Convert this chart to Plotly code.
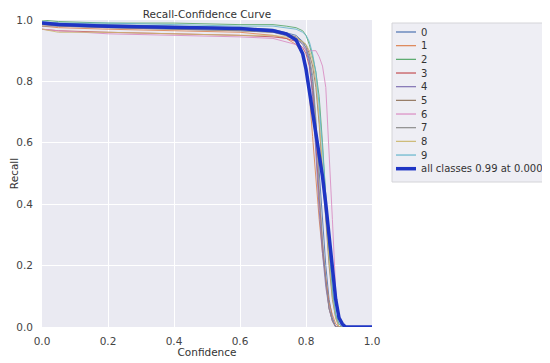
import plotly.graph_objects as go

confidence = [0, 0.05, 0.2, 0.4, 0.6, 0.7, 0.74, 0.77, 0.79, 0.80, 0.81, 0.82,
              0.83, 0.84, 0.85, 0.86, 0.87, 0.88, 0.89, 0.90, 0.91, 0.92, 0.94, 1.0]

class_names = ["0", "1", "2", "3", "4", "5", "6", "7", "8", "9"]

recall_0 = [0.99, 0.99, 0.985, 0.98, 0.975, 0.97, 0.96, 0.95, 0.93, 0.91, 0.87, 0.80,
            0.66, 0.50, 0.34, 0.20, 0.09, 0.03, 0.0, 0, 0, 0, 0, 0]
recall_1 = [0.98, 0.975, 0.97, 0.965, 0.96, 0.95, 0.94, 0.92, 0.89, 0.85, 0.76, 0.62,
            0.48, 0.35, 0.24, 0.15, 0.08, 0.04, 0.01, 0, 0, 0, 0, 0]
recall_2 = [1.0, 0.995, 0.99, 0.99, 0.985, 0.985, 0.98, 0.975, 0.965, 0.95, 0.92, 0.88,
            0.83, 0.75, 0.60, 0.42, 0.25, 0.12, 0.04, 0.01, 0, 0, 0, 0]
recall_3 = [0.97, 0.965, 0.96, 0.955, 0.95, 0.945, 0.94, 0.93, 0.91, 0.89, 0.85, 0.77,
            0.58, 0.42, 0.27, 0.15, 0.06, 0.02, 0, 0, 0, 0, 0, 0]
recall_4 = [0.99, 0.985, 0.98, 0.975, 0.97, 0.965, 0.955, 0.94, 0.92, 0.90, 0.86, 0.75,
            0.55, 0.38, 0.24, 0.13, 0.06, 0.02, 0, 0, 0, 0, 0, 0]
recall_5 = [0.985, 0.98, 0.975, 0.97, 0.965, 0.96, 0.955, 0.945, 0.93, 0.92, 0.89, 0.85,
            0.78, 0.66, 0.50, 0.34, 0.20, 0.09, 0.03, 0, 0, 0, 0, 0]
recall_6 = [0.97, 0.965, 0.955, 0.95, 0.945, 0.94, 0.93, 0.92, 0.91, 0.905, 0.90, 0.90,
            0.90, 0.88, 0.85, 0.78, 0.58, 0.35, 0.12, 0.02, 0, 0, 0, 0]
recall_7 = [0.98, 0.98, 0.975, 0.97, 0.965, 0.96, 0.95, 0.94, 0.925, 0.91, 0.88, 0.82,
            0.68, 0.45, 0.28, 0.15, 0.06, 0.02, 0, 0, 0, 0, 0, 0]
recall_8 = [0.97, 0.96, 0.96, 0.955, 0.95, 0.95, 0.945, 0.94, 0.93, 0.92, 0.90, 0.87,
            0.80, 0.68, 0.52, 0.36, 0.22, 0.10, 0.03, 0, 0, 0, 0, 0]
recall_9 = [0.995, 0.99, 0.99, 0.985, 0.98, 0.98, 0.975, 0.97, 0.96, 0.95, 0.93, 0.89,
            0.83, 0.72, 0.58, 0.42, 0.26, 0.12, 0.04, 0.01, 0, 0, 0, 0]
recall_all = [0.99, 0.985, 0.98, 0.977, 0.972, 0.965, 0.955, 0.935, 0.89, 0.84, 0.77, 0.70,
              0.63, 0.57, 0.49, 0.40, 0.30, 0.19, 0.09, 0.03, 0.01, 0, 0, 0]

class_recalls = [recall_0, recall_1, recall_2, recall_3, recall_4,
                 recall_5, recall_6, recall_7, recall_8, recall_9]
all_label = "all classes 0.99 at 0.000"

palette = ["#4C72B0", "#DD8452", "#55A868", "#C44E52", "#8172B3",
           "#937860", "#DA8BC3", "#8C8C8C", "#CCB974", "#64B5CD"]
all_color = "#1f35c4"

fig = go.Figure()
for name, rec, col in zip(class_names, class_recalls, palette):
    fig.add_trace(go.Scatter(x=confidence, y=rec, mode="lines", name=name,
                             line=dict(color=col, width=1), opacity=0.85,
                             showlegend=False))
fig.add_trace(go.Scatter(x=confidence, y=recall_all, mode="lines", name=all_label,
                         line=dict(color=all_color, width=3.5), showlegend=False))

# The page adds an 8px body margin, so the figure is laid out 8px smaller.
OFF = 8.0
FW, FH = 550 - OFF, 363 - OFF
L, T, PW, PH = 42.0 - OFF, 20.0 - OFF, 330.0, 307.0

def px_x(p):
    return (p - OFF - L) / PW

def px_y(p):
    return (T + PH - (p - OFF)) / PH

shapes = [dict(type="rect", xref="paper", yref="paper",
               x0=px_x(392), x1=px_x(545), y0=px_y(182), y1=px_y(23),
               fillcolor="#EEEEF4", line=dict(color="#d4d4d8", width=1), layer="above")]
annotations = []
labels = class_names + [all_label]
colors = palette + [all_color]
for i, (lab, col) in enumerate(zip(labels, colors)):
    yy = 32 + 13.67 * i
    w = 3.5 if i == len(class_names) else 1.2
    shapes.append(dict(type="line", xref="paper", yref="paper",
                       x0=px_x(396), x1=px_x(416), y0=px_y(yy), y1=px_y(yy),
                       line=dict(color=col, width=w), layer="above"))
    annotations.append(dict(xref="paper", yref="paper", x=px_x(420), y=px_y(yy),
                            text=lab, showarrow=False, xanchor="left", yanchor="middle",
                            borderpad=0, font=dict(size=10, color="#333")))

ticks = [0, 0.2, 0.4, 0.6, 0.8, 1.0]
axis_common = dict(range=[0, 1], tickvals=ticks, tickformat=".1f",
                   showgrid=True, gridcolor="white", gridwidth=1,
                   zeroline=False, showline=False, ticks="", automargin=False,
                   tickfont=dict(size=10.5, color="#444"))

fig.update_layout(
    width=FW, height=FH,
    margin=dict(l=L, r=FW - L - PW, t=T, b=FH - T - PH, pad=0),
    paper_bgcolor="white", plot_bgcolor="#EAEAF2",
    font=dict(family="DejaVu Sans", color="#333"),
    title=dict(text="Recall-Confidence Curve", xref="paper", x=0.5, xanchor="center",
               yref="container", y=1 - 2.5 / FH, yanchor="top",
               font=dict(size=10.5, color="#333")),
    xaxis=dict(axis_common, ticklabelstandoff=6,
               title=dict(text="Confidence", standoff=3,
                          font=dict(size=10.5, color="#333"))),
    yaxis=dict(axis_common, ticklabelstandoff=8,
               title=dict(text="Recall", standoff=5,
                          font=dict(size=10.5, color="#333"))),
    shapes=shapes, annotations=annotations,
    showlegend=False,
)

fig.write_html("out.html")
